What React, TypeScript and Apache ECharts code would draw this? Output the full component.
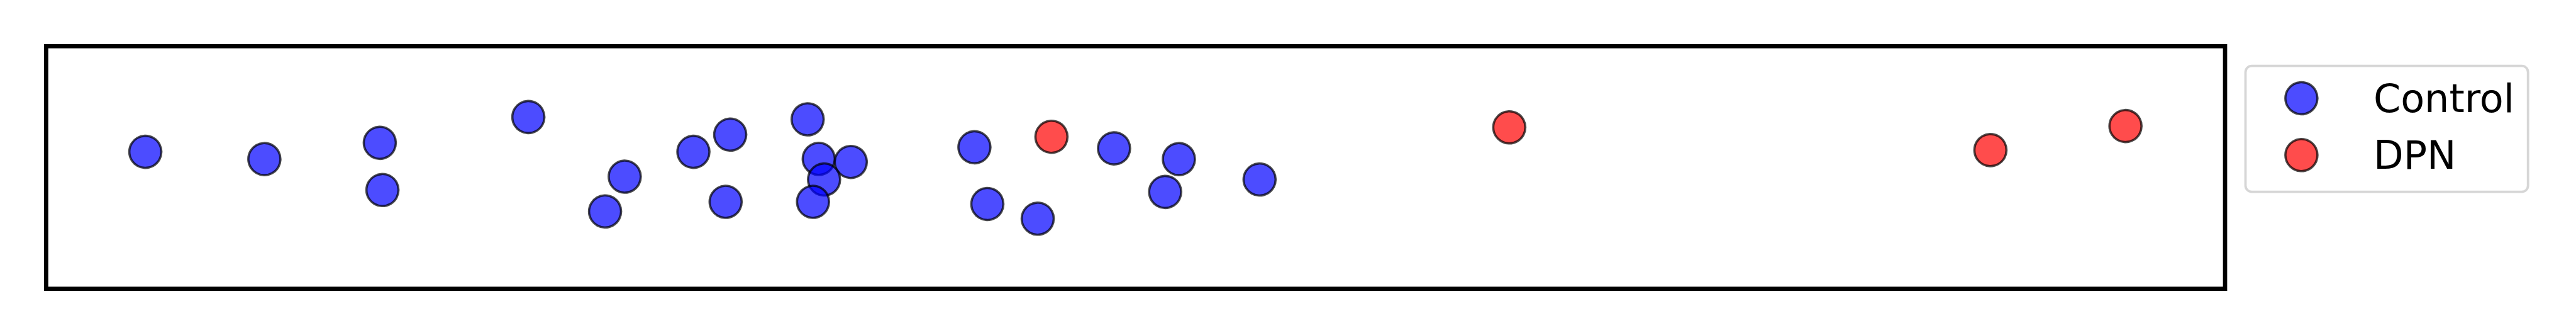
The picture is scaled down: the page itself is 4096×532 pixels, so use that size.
import React, { useEffect, useRef } from "react";
import * as echarts from "echarts";

// Strip plot: x = measured value (relative units 0-100), y = vertical jitter
const controlX = [4.552, 10.015, 15.313, 15.434, 22.131, 26.554, 25.651, 29.706, 31.395, 31.185, 34.949, 35.458, 36.929, 35.702, 35.195, 42.603, 43.196, 45.507, 49.011, 51.987, 51.357, 55.69];
const controlY = [0.0646, 0.0346, 0.1017, -0.093, 0.208, -0.0377, -0.1811, 0.0646, 0.1355, -0.1416, 0.1986, 0.0356, 0.0228, -0.0495, -0.1416, 0.0835, -0.1504, -0.2111, 0.0788, 0.0346, -0.1008, -0.0495];
const dpnX = [46.138, 67.15, 89.231, 95.43];
const dpnY = [0.1267, 0.1655, 0.0717, 0.1709];
const seriesNames = ["Control", "DPN"];

export default function App() {
  const ref = useRef<HTMLDivElement>(null);

  useEffect(() => {
    if (!ref.current) return;
    const chart = echarts.init(ref.current, null, { renderer: "svg" });
    const toPairs = (xs: number[], ys: number[]) => xs.map((x, i) => [x, ys[i]]);
    const markerStyle = (c: string) => ({
      color: c,
      borderColor: "rgba(0,0,0,0.7)",
      borderWidth: 3.6,
      opacity: 1,
    });
    chart.setOption({
      animation: false,
      backgroundColor: "#ffffff",
      grid: {
        left: 73.4,
        top: 73.4,
        width: 3464.6,
        height: 385.2,
        show: true,
        borderColor: "#000000",
        borderWidth: 6.7,
        backgroundColor: "transparent",
      },
      xAxis: { type: "value", min: 0, max: 100, show: false },
      yAxis: { type: "value", min: -0.5, max: 0.5, show: false },
      legend: {
        orient: "vertical",
        left: 3570.5,
        top: 104.6,
        padding: [20.4, 21.7, 27.4, 61.6],
        itemGap: 28.3,
        itemWidth: 51,
        itemHeight: 51,
        borderColor: "#d6d6d6",
        borderWidth: 3.8,
        borderRadius: 10,
        backgroundColor: "#ffffff",
        selectedMode: false,
        textStyle: {
          fontFamily: "DejaVu Sans",
          fontSize: 62,
          color: "#000000",
          padding: [0, 0, 0, 84],
        },
        data: [
          { name: seriesNames[0], icon: "circle", itemStyle: markerStyle("rgba(0,0,255,0.7)") },
          { name: seriesNames[1], icon: "circle", itemStyle: markerStyle("rgba(255,0,0,0.7)") },
        ],
      },
      series: [
        {
          name: seriesNames[0],
          type: "scatter",
          symbol: "circle",
          symbolSize: 51,
          data: toPairs(controlX, controlY),
          itemStyle: markerStyle("rgba(0,0,255,0.7)"),
          emphasis: { disabled: true },
        },
        {
          name: seriesNames[1],
          type: "scatter",
          symbol: "circle",
          symbolSize: 51,
          data: toPairs(dpnX, dpnY),
          itemStyle: markerStyle("rgba(255,0,0,0.7)"),
          emphasis: { disabled: true },
        },
      ],
    });
    return () => chart.dispose();
  }, []);

  return (
    <div
      ref={ref}
      style={{ position: "fixed", left: 0, top: 0, width: 4096, height: 532, background: "#fff" }}
    />
  );
}
